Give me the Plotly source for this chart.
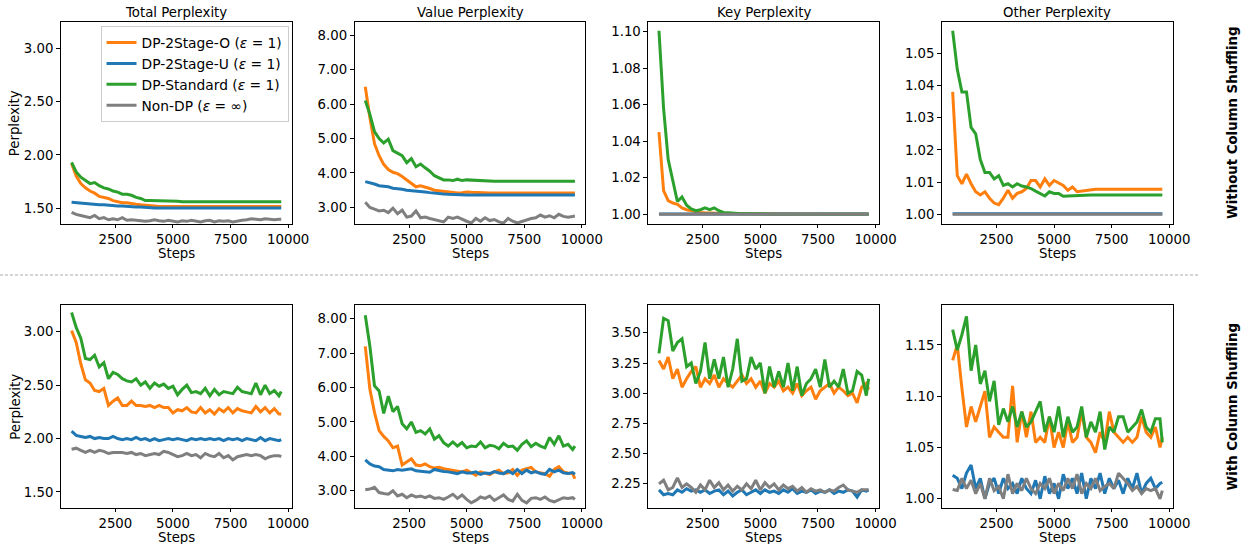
import plotly.graph_objects as go

# ---------------- data ----------------
steps = [600, 800, 1000, 1200, 1400, 1600, 1800, 2000, 2200, 2400,
         2600, 2800, 3000, 3200, 3400, 3600, 3800, 4000, 4200, 4400,
         4600, 4800, 5000, 5200, 5400, 5600, 5800, 6000, 6200, 6400,
         6600, 6800, 7000, 7200, 7400, 7600, 7800, 8000, 8200, 8400,
         8600, 8800, 9000, 9200, 9400, 9600, 9700]

series_names = ["DP-2Stage-O (<i>ε</i> = 1)", "DP-2Stage-U (<i>ε</i> = 1)",
                "DP-Standard (<i>ε</i> = 1)", "Non-DP (<i>ε</i> = ∞)"]
panel_titles = ["Total Perplexity", "Value Perplexity", "Key Perplexity", "Other Perplexity"]
row_labels = ["Without Column Shuffling", "With Column Shuffling"]

# ---- Row 1: without column shuffling ----
total_wo_orange = [1.92, 1.80, 1.73, 1.69, 1.66, 1.64, 1.61, 1.60, 1.59, 1.57,
                   1.56, 1.55, 1.55, 1.54, 1.535, 1.53, 1.525, 1.52, 1.52, 1.515,
                   1.515, 1.515, 1.515, 1.515, 1.515, 1.515, 1.515, 1.515, 1.515, 1.515,
                   1.515, 1.515, 1.515, 1.515, 1.515, 1.515, 1.515, 1.515, 1.515, 1.515,
                   1.515, 1.515, 1.515, 1.515, 1.515, 1.515, 1.515]
total_wo_blue = [1.555, 1.55, 1.545, 1.54, 1.535, 1.535, 1.53, 1.53, 1.525, 1.525,
                 1.52, 1.52, 1.515, 1.515, 1.51, 1.51, 1.505, 1.505, 1.50, 1.50,
                 1.50, 1.50, 1.50, 1.50, 1.50, 1.50, 1.50, 1.50, 1.50, 1.50,
                 1.50, 1.50, 1.50, 1.50, 1.50, 1.50, 1.50, 1.50, 1.50, 1.50,
                 1.50, 1.50, 1.50, 1.50, 1.50, 1.50, 1.50]
total_wo_green = [1.93, 1.84, 1.79, 1.76, 1.73, 1.74, 1.71, 1.69, 1.68, 1.66,
                  1.65, 1.63, 1.63, 1.62, 1.60, 1.59, 1.57, 1.57, 1.57, 1.565,
                  1.57, 1.565, 1.565, 1.565, 1.56, 1.56, 1.56, 1.56, 1.56, 1.56,
                  1.56, 1.56, 1.56, 1.56, 1.56, 1.56, 1.56, 1.56, 1.56, 1.56,
                  1.56, 1.56, 1.56, 1.56, 1.56, 1.56, 1.56]
total_wo_gray = [1.46, 1.44, 1.43, 1.42, 1.41, 1.43, 1.40, 1.41, 1.39, 1.40,
                 1.39, 1.41, 1.385, 1.39, 1.385, 1.38, 1.375, 1.38, 1.39, 1.38,
                 1.375, 1.385, 1.38, 1.37, 1.38, 1.375, 1.385, 1.38, 1.37, 1.38,
                 1.385, 1.37, 1.38, 1.375, 1.38, 1.37, 1.38, 1.385, 1.39, 1.40,
                 1.395, 1.39, 1.40, 1.395, 1.39, 1.395, 1.395]

value_wo_orange = [6.5, 5.6, 4.85, 4.5, 4.25, 4.1, 4.02, 3.98, 3.9, 3.8,
                   3.68, 3.6, 3.63, 3.6, 3.55, 3.5, 3.48, 3.47, 3.45, 3.44,
                   3.42, 3.43, 3.45, 3.44, 3.43, 3.42, 3.42, 3.42, 3.42, 3.42,
                   3.42, 3.42, 3.42, 3.42, 3.42, 3.42, 3.42, 3.42, 3.42, 3.42,
                   3.42, 3.42, 3.42, 3.42, 3.42, 3.42, 3.42]
value_wo_blue = [3.75, 3.72, 3.68, 3.63, 3.62, 3.6, 3.56, 3.55, 3.53, 3.5,
                 3.49, 3.48, 3.48, 3.45, 3.43, 3.41, 3.4, 3.39, 3.38, 3.37,
                 3.37, 3.36, 3.36, 3.36, 3.36, 3.36, 3.36, 3.36, 3.36, 3.36,
                 3.36, 3.36, 3.36, 3.36, 3.36, 3.36, 3.36, 3.36, 3.36, 3.36,
                 3.36, 3.36, 3.36, 3.36, 3.36, 3.36, 3.36]
value_wo_green = [6.1, 5.7, 5.2, 5.0, 4.87, 4.98, 4.65, 4.58, 4.5, 4.3,
                  4.42, 4.18, 4.26, 4.15, 4.05, 3.92, 3.85, 3.8, 3.8, 3.78,
                  3.82, 3.78, 3.8, 3.79, 3.8, 3.78, 3.77, 3.76, 3.76, 3.76,
                  3.76, 3.76, 3.76, 3.76, 3.76, 3.76, 3.76, 3.76, 3.76, 3.76,
                  3.76, 3.76, 3.76, 3.76, 3.76, 3.76, 3.76]
value_wo_gray = [3.15, 3.0, 2.95, 2.9, 2.92, 2.85, 2.98, 2.82, 2.92, 2.72,
                 2.75, 2.9, 2.7, 2.72, 2.68, 2.65, 2.62, 2.58, 2.72, 2.68,
                 2.72, 2.65, 2.6, 2.55, 2.68, 2.6, 2.7, 2.62, 2.65, 2.58,
                 2.55, 2.68, 2.6, 2.55, 2.6, 2.65, 2.68, 2.7, 2.78, 2.72,
                 2.76, 2.7, 2.8, 2.74, 2.72, 2.74, 2.75]

key_wo_orange = [1.045, 1.013, 1.0075, 1.0062, 1.0055, 1.0035, 1.0025, 1.002, 1.0013, 1.001,
                 1.0008, 1.0006, 1.0005, 1.0004, 1.0004, 1.0004, 1.0004, 1.0004, 1.0004, 1.0004,
                 1.0004, 1.0004, 1.0004, 1.0004, 1.0004, 1.0004, 1.0004, 1.0003, 1.0002, 1.0002,
                 1.0002, 1.0002, 1.0002, 1.0002, 1.0002, 1.0002, 1.0002, 1.0002, 1.0002, 1.0002,
                 1.0002, 1.0002, 1.0002, 1.0002, 1.0002, 1.0002, 1.0002]
key_wo_blue = [1.0002, 1.0002, 1.0002, 1.0002, 1.0002, 1.0002, 1.0002, 1.0002, 1.0002, 1.0002,
               1.0002, 1.0002, 1.0002, 1.0002, 1.0002, 1.0002, 1.0002, 1.0002, 1.0002, 1.0002,
               1.0002, 1.0002, 1.0002, 1.0002, 1.0002, 1.0002, 1.0002, 1.0002, 1.0002, 1.0002,
               1.0002, 1.0002, 1.0002, 1.0002, 1.0002, 1.0002, 1.0002, 1.0002, 1.0002, 1.0002,
               1.0002, 1.0002, 1.0002, 1.0002, 1.0002, 1.0002, 1.0002]
key_wo_green = [1.1005, 1.058, 1.03, 1.018, 1.007, 1.0095, 1.005, 1.003, 1.002, 1.0025,
                1.0035, 1.0025, 1.0035, 1.002, 1.001, 1.0008, 1.0005, 1.0004, 1.0003, 1.0003,
                1.0002, 1.0001, 1.0001, 1.0001, 1.0001, 1.0001, 1.0001, 1.0001, 1.0001, 1.0001,
                1.0001, 1.0001, 1.0001, 1.0001, 1.0001, 1.0001, 1.0001, 1.0001, 1.0001, 1.0001,
                1.0001, 1.0001, 1.0001, 1.0001, 1.0001, 1.0001, 1.0001]
key_wo_gray = [1.0, 1.0, 1.0, 1.0, 1.0, 1.0, 1.0, 1.0, 1.0, 1.0,
               1.0, 1.0, 1.0, 1.0, 1.0, 1.0, 1.0, 1.0, 1.0, 1.0,
               1.0, 1.0, 1.0, 1.0, 1.0, 1.0, 1.0, 1.0, 1.0, 1.0,
               1.0, 1.0, 1.0, 1.0, 1.0, 1.0, 1.0, 1.0, 1.0, 1.0,
               1.0, 1.0, 1.0, 1.0, 1.0, 1.0, 1.0]

other_wo_orange = [1.038, 1.012, 1.0095, 1.0125, 1.0095, 1.007, 1.006, 1.007, 1.005, 1.0035,
                   1.003, 1.005, 1.0075, 1.005, 1.0065, 1.007, 1.008, 1.0105, 1.0105, 1.0085,
                   1.011, 1.009, 1.0105, 1.0098, 1.009, 1.0075, 1.0085, 1.007, 1.0072, 1.0076,
                   1.0078, 1.0078, 1.0078, 1.0078, 1.0078, 1.0078, 1.0078, 1.0078, 1.0078, 1.0078,
                   1.0078, 1.0078, 1.0078, 1.0078, 1.0078, 1.0078, 1.0078]
other_wo_blue = [1.0002, 1.0002, 1.0002, 1.0002, 1.0002, 1.0002, 1.0002, 1.0002, 1.0002, 1.0002,
                 1.0002, 1.0002, 1.0002, 1.0002, 1.0002, 1.0002, 1.0002, 1.0002, 1.0002, 1.0002,
                 1.0002, 1.0002, 1.0002, 1.0002, 1.0002, 1.0002, 1.0002, 1.0002, 1.0002, 1.0002,
                 1.0002, 1.0002, 1.0002, 1.0002, 1.0002, 1.0002, 1.0002, 1.0002, 1.0002, 1.0002,
                 1.0002, 1.0002, 1.0002, 1.0002, 1.0002, 1.0002, 1.0002]
other_wo_green = [1.057, 1.045, 1.038, 1.038, 1.027, 1.025, 1.017, 1.013, 1.013, 1.011,
                  1.012, 1.009, 1.0095, 1.0085, 1.0095, 1.0088, 1.0085, 1.008, 1.0072, 1.0065,
                  1.0057, 1.007, 1.0065, 1.0065, 1.0056, 1.0057, 1.0058, 1.0057, 1.006, 1.006,
                  1.006, 1.006, 1.006, 1.006, 1.006, 1.006, 1.006, 1.006, 1.006, 1.006,
                  1.006, 1.006, 1.006, 1.006, 1.006, 1.006, 1.006]
other_wo_gray = [1.0, 1.0, 1.0, 1.0, 1.0, 1.0, 1.0, 1.0, 1.0, 1.0,
                 1.0, 1.0, 1.0, 1.0, 1.0, 1.0, 1.0, 1.0, 1.0, 1.0,
                 1.0, 1.0, 1.0, 1.0, 1.0, 1.0, 1.0, 1.0, 1.0, 1.0,
                 1.0, 1.0, 1.0, 1.0, 1.0, 1.0, 1.0, 1.0, 1.0, 1.0,
                 1.0, 1.0, 1.0, 1.0, 1.0, 1.0, 1.0]

# ---- Row 2: with column shuffling ----
total_w_orange = [3.01, 2.90, 2.70, 2.55, 2.52, 2.45, 2.44, 2.47, 2.31, 2.35,
                  2.38, 2.31, 2.31, 2.35, 2.31, 2.31, 2.30, 2.31, 2.29, 2.31,
                  2.29, 2.29, 2.24, 2.27, 2.26, 2.29, 2.25, 2.24, 2.29, 2.24,
                  2.27, 2.23, 2.28, 2.25, 2.29, 2.24, 2.28, 2.26, 2.25, 2.24,
                  2.30, 2.25, 2.29, 2.24, 2.28, 2.23, 2.23]
total_w_blue = [2.07, 2.03, 2.02, 2.01, 2.02, 2.00, 2.01, 2.00, 2.00, 2.02,
                2.00, 1.99, 2.00, 1.99, 2.01, 1.99, 2.00, 1.98, 2.00, 1.98,
                1.99, 2.00, 1.99, 2.00, 1.99, 1.98, 2.00, 1.99, 2.00, 1.99,
                2.00, 1.99, 2.00, 1.98, 2.00, 1.99, 2.00, 1.98, 2.00, 1.99,
                1.98, 2.01, 1.98, 2.00, 1.99, 1.98, 1.99]
total_w_green = [3.18, 3.04, 2.94, 2.75, 2.74, 2.78, 2.67, 2.71, 2.56, 2.62,
                 2.60, 2.56, 2.54, 2.53, 2.56, 2.50, 2.53, 2.47, 2.52, 2.49,
                 2.51, 2.47, 2.49, 2.41, 2.46, 2.50, 2.43, 2.44, 2.42, 2.47,
                 2.40, 2.46, 2.41, 2.44, 2.43, 2.42, 2.48, 2.44, 2.43, 2.42,
                 2.52, 2.41, 2.50, 2.42, 2.45, 2.40, 2.44]
total_w_gray = [1.90, 1.91, 1.89, 1.87, 1.89, 1.87, 1.89, 1.88, 1.86, 1.87,
                1.87, 1.87, 1.86, 1.87, 1.85, 1.86, 1.84, 1.85, 1.86, 1.85,
                1.88, 1.87, 1.85, 1.83, 1.84, 1.86, 1.84, 1.85, 1.82, 1.86,
                1.84, 1.83, 1.86, 1.82, 1.84, 1.80, 1.83, 1.84, 1.85, 1.84,
                1.85, 1.84, 1.81, 1.83, 1.84, 1.84, 1.83]

value_w_orange = [7.2, 5.95, 5.28, 4.75, 4.58, 4.45, 4.25, 4.3, 3.75, 3.85,
                  3.93, 3.75, 3.73, 3.78, 3.7, 3.66, 3.68, 3.64, 3.62, 3.6,
                  3.58, 3.55, 3.6, 3.52, 3.45, 3.55, 3.5, 3.47, 3.55, 3.6,
                  3.5, 3.52, 3.62, 3.45, 3.6, 3.65, 3.68, 3.55, 3.52, 3.5,
                  3.42, 3.62, 3.7, 3.55, 3.52, 3.5, 3.35]
value_w_blue = [3.9, 3.78, 3.72, 3.7, 3.62, 3.6, 3.58, 3.62, 3.6, 3.62,
                3.64, 3.58, 3.56, 3.55, 3.54, 3.62, 3.58, 3.56, 3.55, 3.52,
                3.5, 3.55, 3.52, 3.52, 3.55, 3.48, 3.52, 3.5, 3.56, 3.52,
                3.5, 3.58, 3.5, 3.62, 3.5, 3.6, 3.52, 3.56, 3.5, 3.48,
                3.62, 3.55, 3.6, 3.52, 3.5, 3.53, 3.48]
value_w_green = [8.1, 7.2, 6.05, 5.9, 5.25, 5.75, 5.3, 5.45, 4.95, 4.8,
                 5.0, 4.7, 4.75, 4.65, 4.8, 4.5, 4.6, 4.4, 4.3, 4.42,
                 4.3, 4.4, 4.25, 4.3, 4.28, 4.42, 4.25, 4.32, 4.3, 4.22,
                 4.38, 4.28, 4.3, 4.18, 4.35, 4.45, 4.28, 4.38, 4.3, 4.25,
                 4.55, 4.35, 4.6, 4.3, 4.35, 4.2, 4.3]
value_w_gray = [3.03, 3.05, 3.1, 2.95, 2.92, 2.9, 3.0, 2.85, 2.9, 2.8,
                2.88, 2.82, 2.85, 2.8, 2.85, 2.78, 2.8, 2.75, 2.82, 2.9,
                2.78, 2.88, 2.75, 2.65, 2.72, 2.82, 2.78, 2.85, 2.72, 2.8,
                2.88, 2.75, 2.7, 2.9, 2.72, 2.65, 2.78, 2.8, 2.75, 2.82,
                2.72, 2.68, 2.75, 2.8, 2.78, 2.8, 2.75]

key_w_orange = [3.27, 3.2, 3.3, 3.12, 3.2, 3.05, 3.12, 3.18, 3.22, 3.05,
                3.12, 3.08, 3.15, 3.05, 3.12, 3.08, 3.05, 3.1, 3.15, 3.08,
                3.12, 3.05, 3.1, 3.0, 3.08, 3.05, 3.1, 3.02, 3.05, 3.0,
                3.08, 2.98, 3.02, 3.05, 2.95, 3.02, 3.05, 3.08, 3.0, 3.05,
                3.02, 2.98, 3.0, 2.92, 3.05, 3.08, 3.03]
key_w_blue = [2.2, 2.16, 2.17, 2.16, 2.2, 2.18, 2.21, 2.19, 2.2, 2.18,
              2.2, 2.17, 2.19, 2.2, 2.16, 2.19, 2.15, 2.18, 2.2, 2.16,
              2.18, 2.2, 2.17, 2.2, 2.18, 2.19, 2.17, 2.2, 2.18, 2.21,
              2.17, 2.19, 2.18, 2.2, 2.17, 2.19, 2.18, 2.2, 2.17, 2.19,
              2.18, 2.2, 2.19, 2.14, 2.2, 2.19, 2.2]
key_w_green = [3.33, 3.62, 3.6, 3.35, 3.42, 3.45, 3.22, 3.25, 3.08, 3.18,
               3.42, 3.12, 3.28, 3.12, 3.3, 3.05, 3.2, 3.45, 3.1, 3.12,
               3.3, 3.2, 3.25, 3.0, 3.22, 3.05, 3.18, 3.05, 3.25, 3.02,
               3.22, 2.98, 3.08, 3.12, 3.2, 3.05, 3.28, 3.05, 3.1, 3.05,
               3.2, 3.0, 3.02, 3.18, 3.15, 2.98, 3.12]
key_w_gray = [2.25, 2.28, 2.2, 2.22, 2.3, 2.22, 2.25, 2.22, 2.18, 2.24,
              2.2, 2.28, 2.22, 2.26, 2.2, 2.24, 2.19, 2.23, 2.2, 2.25,
              2.21, 2.28, 2.2, 2.26, 2.22, 2.25, 2.2, 2.24, 2.21, 2.23,
              2.19, 2.22, 2.18, 2.21, 2.19, 2.2, 2.18, 2.2, 2.19, 2.22,
              2.24, 2.2, 2.19, 2.18, 2.2, 2.2, 2.2]

other_w_orange = [1.135, 1.15, 1.108, 1.07, 1.09, 1.075, 1.09, 1.105, 1.06, 1.07,
                  1.065, 1.06, 1.06, 1.11, 1.055, 1.085, 1.06, 1.085, 1.055, 1.06,
                  1.055, 1.08, 1.05, 1.065, 1.05, 1.075, 1.055, 1.06, 1.085, 1.06,
                  1.055, 1.045, 1.065, 1.055, 1.085, 1.065, 1.06, 1.055, 1.06, 1.055,
                  1.06, 1.08, 1.065, 1.06, 1.07, 1.05, 1.06]
other_w_blue = [1.023, 1.02, 1.01, 1.025, 1.033, 1.01, 1.02, 1.0, 1.015, 1.02,
                1.005, 1.02, 1.01, 1.015, 1.005, 1.02, 1.01, 1.005, 1.018, 1.0,
                1.022, 1.005, 1.015, 1.0, 1.024, 1.01, 1.02, 1.005, 1.025, 1.0,
                1.02, 1.01, 1.025, 1.005, 1.02, 1.01, 1.018, 1.005, 1.02, 1.01,
                1.025, 1.005, 1.015, 1.02, 1.01, 1.015, 1.016]
other_w_green = [1.165, 1.145, 1.16, 1.178, 1.125, 1.15, 1.112, 1.125, 1.095, 1.115,
                 1.072, 1.088, 1.075, 1.09, 1.07, 1.085, 1.07, 1.075, 1.085, 1.095,
                 1.065, 1.08, 1.065, 1.09, 1.06, 1.08, 1.065, 1.07, 1.09, 1.06,
                 1.075, 1.065, 1.085, 1.048, 1.07, 1.065, 1.08, 1.08, 1.065, 1.07,
                 1.075, 1.087, 1.07, 1.065, 1.078, 1.078, 1.055]
other_w_gray = [1.009, 1.008, 1.02, 1.01, 1.018, 1.005, 1.015, 1.0, 1.02, 1.008,
                1.012, 1.0, 1.024, 1.005, 1.015, 1.008, 1.02, 1.01, 1.005, 1.015,
                1.01, 1.02, 1.005, 1.015, 1.008, 1.02, 1.01, 1.024, 1.005, 1.015,
                1.01, 1.02, 1.008, 1.012, 1.015, 1.01, 1.025, 1.02, 1.015, 1.008,
                1.012, 1.005, 1.01, 1.008, 1.01, 1.0, 1.008]

# y ranges and tick steps per panel (row-major)
y_ranges = [[1.35, 3.25], [2.52, 8.38], [0.9947, 1.1053], [0.997, 1.0597],
            [1.35, 3.25], [2.50, 8.40], [2.05, 3.73], [0.991, 1.189]]
y_dticks = [0.5, 1.0, 0.02, 0.01, 0.5, 1.0, 0.25, 0.05]
x_ticks = [2500, 5000, 7500, 10000]

panels = [
    [total_wo_orange, total_wo_blue, total_wo_green, total_wo_gray],
    [value_wo_orange, value_wo_blue, value_wo_green, value_wo_gray],
    [key_wo_orange, key_wo_blue, key_wo_green, key_wo_gray],
    [other_wo_orange, other_wo_blue, other_wo_green, other_wo_gray],
    [total_w_orange, total_w_blue, total_w_green, total_w_gray],
    [value_w_orange, value_w_blue, value_w_green, value_w_gray],
    [key_w_orange, key_w_blue, key_w_green, key_w_gray],
    [other_w_orange, other_w_blue, other_w_green, other_w_gray],
]

# ---------------- style / layout ----------------
W, H = 1245, 544
colors = ["#ff7f0e", "#1f77b4", "#2ca02c", "#7f7f7f"]
FONT = "DejaVu Sans"
FS = 13.3
col_px = [(62, 296), (360, 594), (658, 892), (956, 1190)]
row_px = [(22, 224), (305, 508)]

fig = go.Figure()
layout = dict(
    width=W, height=H, margin=dict(l=0, r=0, t=0, b=0),
    paper_bgcolor="white", plot_bgcolor="white",
    font=dict(family=FONT, size=FS, color="black"),
    showlegend=True, hovermode=False,
    legend=dict(x=102 / W, y=1 - 26 / H, xanchor="left", yanchor="top",
                bgcolor="white", bordercolor="#cccccc", borderwidth=1,
                font=dict(family=FONT, size=13.8, color="black"),
                tracegroupgap=0, itemwidth=30),
)

annotations = []
for i, pdata in enumerate(panels):
    r, c = divmod(i, 4)
    ax = "" if i == 0 else str(i + 1)
    x0, x1 = col_px[c]
    t0, t1 = row_px[r]
    layout["xaxis" + ax] = dict(
        domain=[x0 / W, x1 / W], anchor="y" + ax, range=[145, 10155],
        tickvals=x_ticks, ticktext=[str(v) for v in x_ticks],
        showline=True, mirror=True, linecolor="black", linewidth=1,
        ticks="outside", ticklen=3, tickwidth=1, tickcolor="black",
        showgrid=False, zeroline=False,
        tickfont=dict(family=FONT, size=FS, color="black"))
    layout["yaxis" + ax] = dict(
        domain=[1 - t1 / H, 1 - t0 / H], anchor="x" + ax, range=y_ranges[i],
        dtick=y_dticks[i], tick0=0, tickformat=".2f",
        showline=True, mirror=True, linecolor="black", linewidth=1,
        ticks="outside", ticklen=4, tickwidth=1, tickcolor="black",
        showgrid=False, zeroline=False,
        tickfont=dict(family=FONT, size=FS, color="black"))
    for k in range(4):
        fig.add_trace(go.Scatter(
            x=steps, y=pdata[k], mode="lines",
            line=dict(color=colors[k], width=3),
            name=series_names[k], showlegend=(i == 0),
            xaxis="x" + ax, yaxis="y" + ax))
    # Steps label
    annotations.append(dict(text="Steps", x=(x0 + x1) / 2 / W, y=1 - (t1 + 29) / H,
                            xref="paper", yref="paper", showarrow=False,
                            xanchor="center", yanchor="middle",
                            font=dict(family=FONT, size=FS, color="black")))
    if r == 0:
        annotations.append(dict(text=panel_titles[c], x=(x0 + x1) / 2 / W, y=1 - 12.5 / H,
                                xref="paper", yref="paper", showarrow=False,
                                xanchor="center", yanchor="middle",
                                font=dict(family=FONT, size=FS, color="black")))
    if c == 0:
        annotations.append(dict(text="Perplexity", x=15.5 / W, y=1 - (t0 + t1) / 2 / H,
                                xref="paper", yref="paper", showarrow=False,
                                textangle=-90, xanchor="center", yanchor="middle",
                                font=dict(family=FONT, size=FS, color="black")))

for r, lab in enumerate(row_labels):
    t0, t1 = row_px[r]
    annotations.append(dict(text="<b>" + lab + "</b>", x=1251 / W, y=1 - (t0 + t1) / 2 / H,
                            xref="paper", yref="paper", showarrow=False,
                            textangle=-90, xanchor="center", yanchor="middle",
                            font=dict(family=FONT, size=FS, color="black")))

layout["annotations"] = annotations
layout["shapes"] = [dict(type="line", xref="paper", yref="paper",
                         x0=0, x1=1217 / W, y0=1 - 275 / H, y1=1 - 275 / H,
                         line=dict(color="#aaaaaa", width=1, dash="3px,2px"))]
fig.update_layout(**layout)
fig.write_html("out.html", config={"displayModeBar": False},
               post_script="document.body.style.margin='0';document.body.style.overflow='hidden';")
